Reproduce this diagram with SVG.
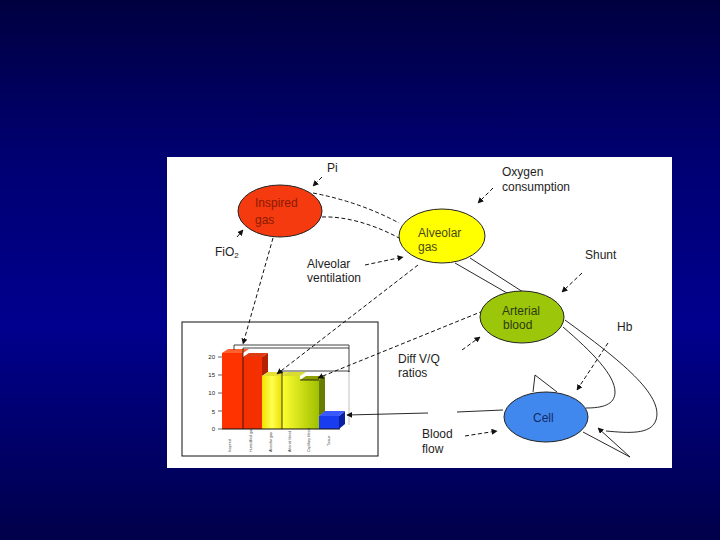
<svg xmlns="http://www.w3.org/2000/svg" width="720" height="540" viewBox="0 0 720 540">
<defs>
<linearGradient id="bg" x1="0" y1="0" x2="0" y2="1">
<stop offset="0" stop-color="#000040"/>
<stop offset="0.3" stop-color="#000072"/>
<stop offset="0.6" stop-color="#00008e"/>
<stop offset="1" stop-color="#00004a"/>
</linearGradient>
<linearGradient id="ygrad" x1="0" y1="0" x2="1" y2="0">
<stop offset="0" stop-color="#f2e400"/>
<stop offset="0.5" stop-color="#ffff50"/>
<stop offset="1" stop-color="#ece000"/>
</linearGradient>
<linearGradient id="ggrad" x1="0" y1="0" x2="1" y2="0">
<stop offset="0" stop-color="#ffff30"/>
<stop offset="1" stop-color="#9fc000"/>
</linearGradient>
<marker id="ah" viewBox="0 0 10 10" refX="9" refY="5" markerWidth="6" markerHeight="6" orient="auto" markerUnits="userSpaceOnUse">
<path d="M0,0 L10,5 L0,10 z" fill="#111"/>
</marker>
</defs>
<style>
.lbl{font-family:"Liberation Sans",Arial,sans-serif;font-size:12px;fill:#1e1e1e}
.dash{fill:none;stroke:#111;stroke-width:1;stroke-dasharray:4 2.5}
.sol{fill:none;stroke:#111;stroke-width:0.9}
.node{stroke:#222;stroke-width:1}
.ax{font-family:"Liberation Sans",Arial,sans-serif;font-size:6px;fill:#222}
.cat{font-family:"Liberation Sans",Arial,sans-serif;font-size:3.6px;fill:#333}
</style>
<rect x="0" y="0" width="720" height="540" fill="url(#bg)"/>
<rect x="167" y="157" width="505" height="311" fill="#ffffff"/>

<g id="chart">
<rect x="182" y="322" width="196" height="134" fill="#fff" stroke="#111" stroke-width="1"/>
<g class="ax" text-anchor="end">
<text x="215" y="359">20</text>
<text x="215" y="377">15</text>
<text x="215" y="395">10</text>
<text x="215" y="414">5</text>
<text x="215" y="431">0</text>
</g>
<path d="M218,357H222M218,375H222M218,393H222M218,411H222M218,429H222" stroke="#222" stroke-width="0.7"/>
<!-- bar 2 side -->
<polygon points="262,357 268,353 268,372 262,376" fill="#b52000"/>
<!-- bar1 -->
<polygon points="222,353 228,349 249,349 243,353" fill="#ff6030"/>
<rect x="222" y="353" width="21" height="76" fill="#ff3300"/>
<!-- bar2 -->
<polygon points="243,357 249,353 268,353 262,357" fill="#e03a10"/>
<rect x="243" y="357" width="19" height="72" fill="#f53000"/>
<!-- bar 5 side -->
<polygon points="319,380 325,376 325,412 319,416" fill="#6b7d00"/>
<!-- bar3 -->
<polygon points="262,376 268,372 288,372 282,376" fill="#e8e030"/>
<rect x="262" y="376" width="20" height="53" fill="url(#ygrad)"/>
<!-- bar4/5 -->
<polygon points="282,376 288,372 306,372 300,376" fill="#d8dc30"/>
<polygon points="300,380 306,376 325,376 319,380" fill="#8ea000"/>
<path d="M282,376H300V380H319V429H282z" fill="url(#ggrad)"/>
<!-- blue bar -->
<polygon points="339,416 345,411 345,424 339,429" fill="#0a20a0"/>
<polygon points="319,416 325,411 345,411 339,416" fill="#3a5aff"/>
<rect x="319" y="416" width="20" height="13" fill="#1a3cf0"/>
<path d="M222,429H340" stroke="#111" stroke-width="1"/>
<!-- brackets -->
<path d="M234,350V345H349V348H243V429M282,429V371H349V372M300,380H319M349,348V372" fill="none" stroke="#111" stroke-width="0.8"/>
<path d="M349,372V425" fill="none" stroke="#999" stroke-width="0.6"/>
<g class="cat">
<text transform="translate(231,452) rotate(-90)">Inspired</text>
<text transform="translate(252,452) rotate(-90)">Humidified gas</text>
<text transform="translate(272,452) rotate(-90)">Alveolar gas</text>
<text transform="translate(291,452) rotate(-90)">Arterial blood</text>
<text transform="translate(310,452) rotate(-90)">Capillary blood</text>
<text transform="translate(330,446) rotate(-90)">Tissue</text>
</g>
</g>

<g id="connectors">
<path class="dash" d="M313,193 Q360,202 399,223"/>
<path class="dash" d="M322,217 C346,216 375,225 399,238"/>
<path class="sol" d="M470,258 L523,292"/>
<path class="sol" d="M455,263 L507,293"/>
<path class="dash" d="M273,238 L243,344" marker-end="url(#ah)"/>
<path class="dash" d="M418,265 L277,374" stroke-dasharray="3 1.5" marker-end="url(#ah)"/>
<path class="dash" d="M483,311 L318,378" marker-end="url(#ah)"/>
<path class="sol" d="M503,410 L457,412"/>
<path class="sol" d="M428,413 L347,415" marker-end="url(#ah)"/>
<path class="sol" d="M563,327 C592,352 615,375 615,392 C615,405 602,408 586,408"/>
<path class="sol" d="M565,320 C620,360 664,395 656,420 C651,435 628,433 606,431"/>
<path class="sol" d="M535,375 L533,392 M535,375 L557,392"/>
<path class="sol" d="M583,432 L630,457"/>
<path class="sol" d="M630,457 L598,428" marker-end="url(#ah)"/>
<path class="dash" d="M608,343 L577,390" marker-end="url(#ah)"/>
<path class="dash" d="M322,177 L313,186" marker-end="url(#ah)"/>
<path class="dash" d="M237,237 L243,230" marker-end="url(#ah)"/>
<path class="dash" d="M365,265 L403,257" marker-end="url(#ah)"/>
<path class="dash" d="M493,188 L478,203" marker-end="url(#ah)"/>
<path class="dash" d="M582,273 L562,292" marker-end="url(#ah)"/>
<path class="dash" d="M462,350 L480,337" marker-end="url(#ah)"/>
<path class="dash" d="M465,436 L497,431" marker-end="url(#ah)"/>
</g>

<g id="inspired">
<ellipse class="node" cx="280" cy="211" rx="42" ry="26" fill="#f53a10"/>
<text x="255" y="207" style="font-family:'Liberation Sans',Arial,sans-serif;font-size:12px;fill:#8a1a00">Inspired</text>
<text x="255" y="224" style="font-family:'Liberation Sans',Arial,sans-serif;font-size:12px;fill:#8a1a00">gas</text>
</g>
<g id="alveolar">
<ellipse class="node" cx="442" cy="236" rx="43" ry="27" fill="#ffff00"/>
<text x="418" y="237" style="font-family:'Liberation Sans',Arial,sans-serif;font-size:12px;fill:#4a4a10">Alveolar</text>
<text x="418" y="251" style="font-family:'Liberation Sans',Arial,sans-serif;font-size:12px;fill:#4a4a10">gas</text>
</g>
<g id="arterial">
<ellipse class="node" cx="522" cy="317" rx="42" ry="26" fill="#9bc60a"/>
<text x="502" y="315" style="font-family:'Liberation Sans',Arial,sans-serif;font-size:12px;fill:#2e3a10">Arterial</text>
<text x="503" y="329" style="font-family:'Liberation Sans',Arial,sans-serif;font-size:12px;fill:#2e3a10">blood</text>
</g>
<g id="cell">
<ellipse class="node" cx="546" cy="417" rx="42" ry="25" fill="#4188ee"/>
<text x="533" y="422" style="font-family:'Liberation Sans',Arial,sans-serif;font-size:12px;fill:#122a6a">Cell</text>
</g>

<g id="labels">
<text class="lbl" x="327" y="172">Pi</text>
<text class="lbl" x="215" y="256">FiO<tspan font-size="8" dy="2">2</tspan></text>
<text class="lbl" x="307" y="268">Alveolar</text>
<text class="lbl" x="307" y="282">ventilation</text>
<text class="lbl" x="502" y="176">Oxygen</text>
<text class="lbl" x="502" y="191">consumption</text>
<text class="lbl" x="585" y="259">Shunt</text>
<text class="lbl" x="617" y="331">Hb</text>
<text class="lbl" x="398" y="363">Diff  V/Q</text>
<text class="lbl" x="398" y="377">ratios</text>
<text class="lbl" x="422" y="438">Blood</text>
<text class="lbl" x="422" y="453">flow</text>
</g>
</svg>
